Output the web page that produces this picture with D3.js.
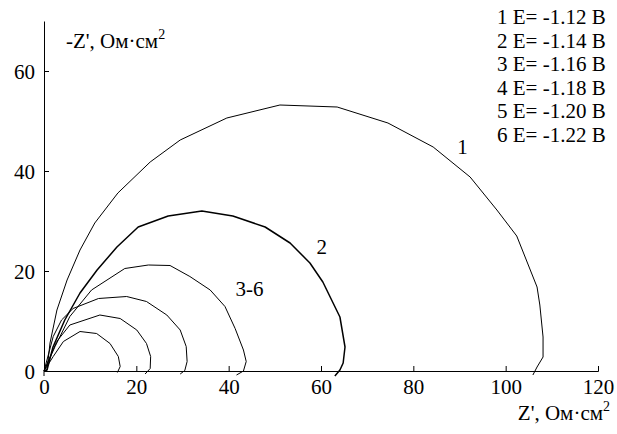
<!DOCTYPE html>
<html>
<head>
<meta charset="utf-8">
<script src="https://cdn.jsdelivr.net/npm/d3@7"></script>
</head>
<body style="margin:0">
<svg id="nyquist" width="617" height="434" style="display:block"></svg>
<script>
// Nyquist plots: [Z', -Z''] pairs in Ом·см², one array per potential
const curve1 = [[0,0],[0.65,0.2],[1.3,5.6],[2.8,12.2],[5.0,18.2],[7.8,24.2],[11.0,29.6],[16.0,35.6],[23.0,41.8],[29.5,46.2],[39.6,50.6],[51.1,53.2],[63.5,52.8],[74.5,49.6],[84.3,44.8],[92.3,38.8],[98.1,32.2],[102.4,27.0],[106.8,16.8],[107.4,13.2],[108.1,6.8],[108.1,2.8],[106.8,0.8],[105.9,-0.8]];
const curve2 = [[0,0],[0.65,0.2],[1.95,4.8],[4.5,10.2],[7.8,15.6],[11.5,20.2],[15.8,24.8],[20.4,28.8],[26.9,31.0],[34.2,32.0],[40.9,31.0],[47.9,28.8],[53.3,25.6],[57.6,21.6],[60.4,17.8],[64.1,10.8],[65.2,4.8],[64.8,1.6],[64.1,0.2],[63.0,-1.0]];
const curve3 = [[0,0],[2.4,4.9],[5.6,10.9],[10.3,16.2],[17.5,20.5],[22.6,21.2],[27.3,21.1],[31.6,18.9],[36.0,16.2],[39.2,12.9],[41.4,8.5],[43.2,4.2],[43.8,1.9],[43.2,0],[41.7,-0.8]];
const curve4 = [[0,0],[2.0,6.9],[3.8,10.2],[6.3,12.5],[11.8,14.5],[17.9,14.9],[22.2,13.9],[26.6,11.2],[29.5,8.2],[30.8,4.9],[31.0,1.9],[30.5,0.1],[29.5,-0.6]];
const curve5 = [[0,0],[2.75,5.9],[5.6,9.2],[12.1,11.2],[16.5,10.5],[20.1,8.2],[22.2,5.5],[23.1,2.9],[23.0,0.5],[21.9,-0.6]];
const curve6 = [[0,0],[2.0,2.9],[4.2,5.9],[7.8,7.9],[11.4,7.5],[14.3,5.5],[16.1,2.9],[16.5,0.9],[15.9,-0.3]];

const xTicks = [0, 20, 40, 60, 80, 100, 120];
const yTicks = [0, 20, 40, 60];
const legendLines = ["1 E= -1.12 В", "2 E= -1.14 В", "3 E= -1.16 В", "4 E= -1.18 В", "5 E= -1.20 В", "6 E= -1.22 В"];
const curveLabels = [
  { text: "1", at: [89.5, 43.5] },
  { text: "2", at: [59, 23.5] },
  { text: "3-6", at: [41.5, 15] }
];

const FONT = "Liberation Serif";
const FS = 21;
const svg = d3.select("#nyquist");
const margin = { left: 44, right: 19, top: 21, bottom: 63 };
const W = 617, H = 434;

const x = d3.scaleLinear().domain([0, 120]).range([margin.left, W - margin.right]);
const y = d3.scaleLinear().domain([0, 70]).range([H - margin.bottom, margin.top]);

function serif(sel, size) {
  return sel.attr("font-size", size)
    .style("font-family", FONT, "important")
    .style("font-size", size + "px", "important")
    .attr("fill", "#000");
}

// axes with inward ticks
const xAxis = d3.axisBottom(x).tickValues(xTicks).tickSize(-5).tickSizeOuter(-5).tickPadding(8).tickFormat(d3.format("d"));
const yAxis = d3.axisLeft(y).tickValues(yTicks).tickSize(-5).tickSizeOuter(0).tickPadding(9).tickFormat(d3.format("d"));

const gx = svg.append("g").attr("transform", `translate(0,${y(0)})`).call(xAxis);
const gy = svg.append("g").attr("transform", `translate(${x(0)},0)`).call(yAxis);
[gx, gy].forEach(g => {
  g.attr("font-family", FONT);
  g.selectAll("path, line").attr("stroke", "#000").attr("stroke-width", 1);
  serif(g.selectAll("text"), FS);
});
gy.selectAll(".tick text").attr("dy", "0.35em");

// short extension of the vertical axis below zero
svg.append("line")
  .attr("x1", x(0)).attr("x2", x(0))
  .attr("y1", y(0)).attr("y2", y(0) + 5)
  .attr("stroke", "#000");

// curves
const line = d3.line().x(d => x(d[0])).y(d => y(d[1]));
const curves = [curve1, curve2, curve3, curve4, curve5, curve6];
const widths = [1, 1.5, 1, 1, 1, 1];
curves.forEach((c, i) => {
  svg.append("path")
    .datum(c)
    .attr("d", line)
    .attr("fill", "none")
    .attr("stroke", "#000")
    .attr("stroke-width", widths[i])
    .attr("stroke-linejoin", "round");
});

function addText(xp, yp) {
  return serif(svg.append("text").attr("x", xp).attr("y", yp), FS);
}

// curve labels
curveLabels.forEach(l => {
  addText(x(l.at[0]), y(l.at[1])).text(l.text);
});

// legend
legendLines.forEach((t, i) => {
  addText(497, 24 + i * 23.5).text(t);
});

// axis titles
const yTitle = addText(66, 48);
yTitle.append("tspan").text("-Z', Ом·см");
serif(yTitle.append("tspan").attr("dy", -9), 14).text("2");

const xTitle = addText(610, 420).attr("text-anchor", "end");
xTitle.append("tspan").text("Z', Ом·см");
serif(xTitle.append("tspan").attr("dy", -9), 14).text("2");
</script>
</body>
</html>
